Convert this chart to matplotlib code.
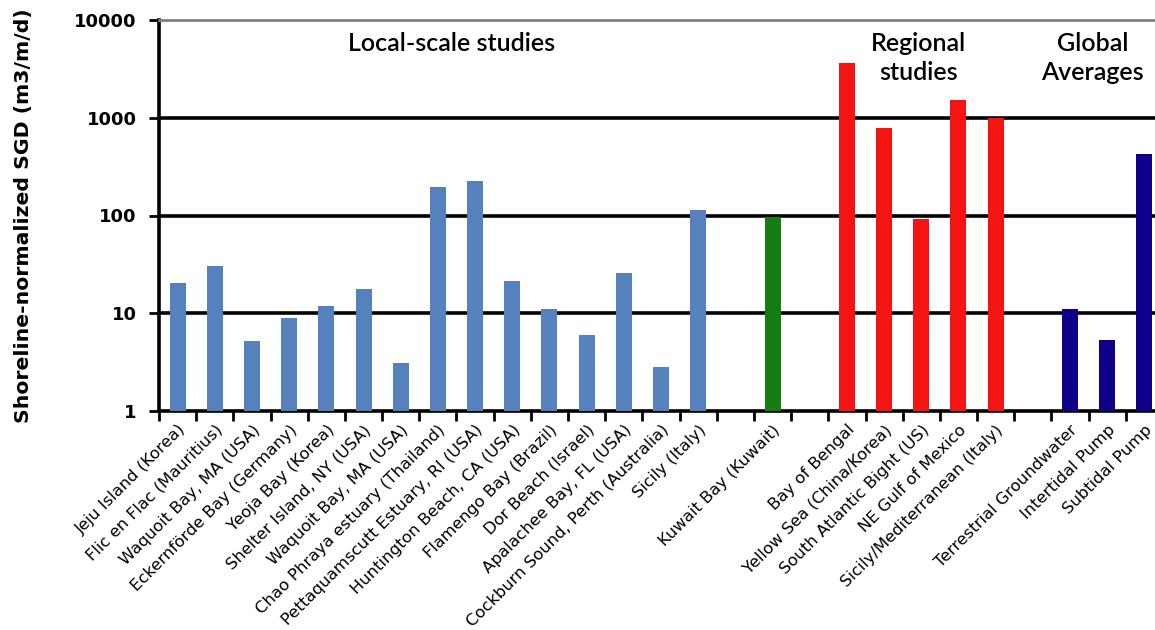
import numpy as np
import matplotlib
matplotlib.use('Agg')
import matplotlib.pyplot as plt
from matplotlib.ticker import FixedLocator, NullFormatter

# data (log scale)
local_names = ['Jeju Island (Korea)', 'Flic en Flac (Mauritius)', 'Waquoit Bay, MA (USA)',
               'Eckernförde Bay (Germany)', 'Yeoja Bay (Korea)', 'Shelter Island, NY (USA)',
               'Waquoit Bay, MA (USA)', 'Chao Phraya estuary (Thailand)',
               'Pettaquamscutt Estuary, RI (USA)', 'Huntington Beach, CA (USA)',
               'Flamengo Bay (Brazil)', 'Dor Beach (Israel)', 'Apalachee Bay, FL (USA)',
               'Cockburn Sound, Perth (Australia)', 'Sicily (Italy)']
local_vals = [20.2, 30.2, 5.2, 8.9, 11.8, 17.5, 3.1, 198, 228, 21.5, 11, 6.0, 25.6, 2.8, 114]

kuwait_names = ['Kuwait Bay (Kuwait)']
kuwait_vals = [96]

regional_names = ['Bay of Bengal', 'Yellow Sea (China/Korea)', 'South Atlantic Bight (US)',
                  'NE Gulf of Mexico', 'Sicily/Mediterranean (Italy)']
regional_vals = [3650, 790, 93, 1530, 1000]

global_names = ['Terrestrial Groundwater', 'Intertidal Pump', 'Subtidal Pump']
global_vals = [11, 5.3, 430]

groups = [
    (local_names, local_vals, '#5581BD'),
    (kuwait_names, kuwait_vals, '#167D12'),
    (regional_names, regional_vals, '#F41414'),
    (global_names, global_vals, '#0E0088'),
]

fig = plt.figure(figsize=(11.55, 6.3), dpi=100)
ax = fig.add_axes([159 / 1155, 1 - 411 / 630, (1163 - 159) / 1155, (411 - 20) / 630])

pos = 0
xs, labels = [], []
for names, vals, color in groups:
    x = np.arange(pos, pos + len(names))
    ax.bar(x, vals, width=0.43, color=color, zorder=3)
    xs.extend(x)
    labels.extend(names)
    pos += len(names) + 1  # one empty slot between groups
nslots = pos - 1

ax.set_yscale('log')
ax.set_ylim(1, 10000)
ax.set_xlim(-0.5, nslots - 0.5)

# grid lines at decades
for v in [10, 100, 1000]:
    ax.axhline(v, color='black', lw=2.6, zorder=1)

ax.set_yticks([1, 10, 100, 1000, 10000])
ax.set_yticklabels(['1', '10', '100', '1000', '10000'], fontsize=13, fontweight='bold')
ax.yaxis.set_minor_locator(FixedLocator([]))
ax.tick_params(axis='y', which='major', length=7, width=2, direction='out', pad=9)

ax.set_xticks(xs)
ax.set_xticklabels(labels, rotation=45, ha='right', rotation_mode='anchor', fontsize=11.8)
ax.tick_params(axis='x', which='major', length=0, pad=8)
ax.xaxis.set_minor_locator(FixedLocator(np.arange(-0.5, nslots, 1.0)))
ax.xaxis.set_minor_formatter(NullFormatter())
ax.tick_params(axis='x', which='minor', length=7, width=2, direction='out')

ax.set_ylabel('Shoreline-normalized SGD (m3/m/d)', fontsize=14.7, fontweight='bold')
ax.yaxis.set_label_coords(-0.1255, 0.5)

for side in ['left', 'bottom']:
    ax.spines[side].set_linewidth(2.6)
    ax.spines[side].set_color('black')
ax.spines['top'].set_color('#808080')
ax.spines['top'].set_linewidth(2)
ax.spines['right'].set_visible(False)

# group headings (x in data units, y in axes fraction)
tr = ax.get_xaxis_transform()
head = dict(ha='center', va='baseline', fontsize=18, family='Lato', fontweight='semibold',
            transform=tr)
ax.text(7.38, 0.9207, 'Local-scale studies', **head)
ax.text(19.92, 0.9207, 'Regional', **head)
ax.text(19.92, 0.8453, 'studies', **head)
ax.text(24.6, 0.9207, 'Global', **head)
ax.text(24.6, 0.8453, 'Averages', **head)

fig.savefig('out.png', dpi=100)
